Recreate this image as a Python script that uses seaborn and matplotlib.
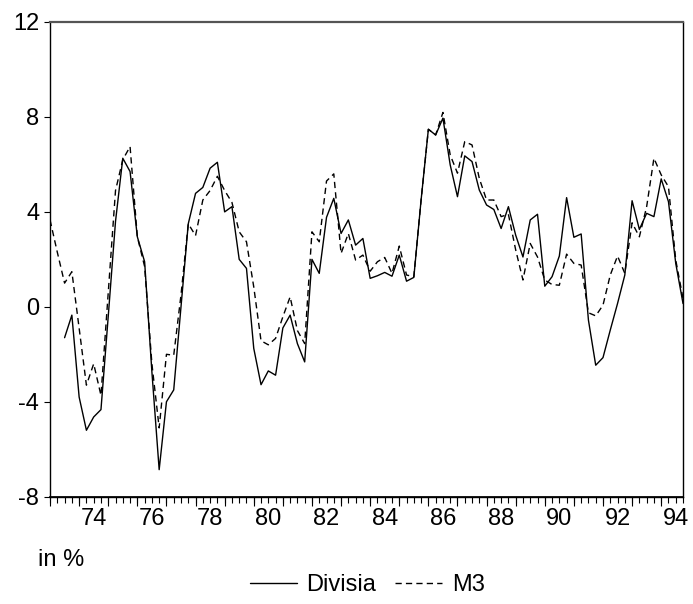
import numpy as np
import pandas as pd
import matplotlib
matplotlib.use('Agg')
import matplotlib.pyplot as plt
import seaborn as sns

# quarterly growth rates, 1973Q1 - 1994Q4, in %
start_year = 1973
divisia = [np.nan, np.nan, -1.3, -0.35, -3.8, -5.2, -4.64, -4.33,
           -0.4, 3.6, 6.26, 5.7, 2.95, 1.9, -2.74, -6.86,
           -4.0, -3.5, 0.0, 3.5, 4.78, 5.03, 5.84, 6.09,
           4.0, 4.22, 2.0, 1.62, -1.75, -3.28, -2.7, -2.88,
           -0.89, -0.35, -1.55, -2.32, 2.0, 1.41, 3.77, 4.57,
           3.09, 3.66, 2.6, 2.88, 1.2, 1.31, 1.45, 1.29,
           2.18, 1.08, 1.24, 4.5, 7.48, 7.24, 7.95, 5.98,
           4.64, 6.36, 6.12, 4.92, 4.29, 4.1, 3.3, 4.22,
           3.02, 2.1, 3.66, 3.9, 0.87, 1.27, 2.14, 4.6,
           2.93, 3.07, -0.56, -2.46, -2.14, -0.98, 0.14, 1.34,
           4.47, 3.26, 3.94, 3.8, 5.39, 4.43, 1.83, 0.14]
m3 = [3.66, 2.3, 1.0, 1.48, -0.9, -3.3, -2.4, -3.73,
      0.6, 4.9, 6.2, 6.75, 2.95, 1.7, -2.4, -5.1,
      -2.0, -2.04, 0.5, 3.5, 3.0, 4.5, 4.9, 5.5,
      4.9, 4.4, 3.16, 2.74, 0.84, -1.43, -1.6, -1.33,
      -0.42, 0.42, -1.0, -1.55, 3.16, 2.74, 5.3, 5.6,
      2.25, 3.09, 1.97, 2.18, 1.5, 1.9, 2.08, 1.41,
      2.56, 1.34, 1.27, 4.5, 7.48, 7.24, 8.19, 6.4,
      5.63, 6.96, 6.82, 5.41, 4.5, 4.5, 3.8, 3.9,
      2.4, 1.13, 2.67, 2.1, 1.13, 0.94, 0.91, 2.22,
      1.83, 1.76, -0.25, -0.38, 0.07, 1.34, 2.14, 1.41,
      3.54, 2.95, 4.22, 6.26, 5.56, 5.06, 1.97, 0.35]
year_labels = ['74', '76', '78', '80', '82', '84', '86', '88', '90', '92', '94']
y_ticks = [-8, -4, 0, 4, 8, 12]

quarters = start_year + np.arange(len(m3)) / 4
df = pd.DataFrame({'quarter': quarters, 'Divisia': divisia, 'M3': m3})

sns.set_theme(style='white')
plt.rcParams['font.family'] = ['Liberation Sans', 'DejaVu Sans']
plt.rcParams['axes.unicode_minus'] = False
plt.rcParams['text.color'] = 'black'
plt.rcParams['xtick.color'] = 'black'
plt.rcParams['ytick.color'] = 'black'

fig = plt.figure(figsize=(6.93, 6.04), dpi=100)
ax = fig.add_axes([0.0722, 0.1776, 0.9134, 0.786])

sns.lineplot(data=df, x='quarter', y='Divisia', ax=ax, color='black', lw=1.0, label='Divisia')
sns.lineplot(data=df, x='quarter', y='M3', ax=ax, color='black', lw=1.0,
             linestyle=(0, (4.5, 3)), label='M3')

ax.set_xlim(start_year, quarters[-1])
ax.set_ylim(-8, 12)
ax.set_xlabel('')
ax.set_ylabel('')

# year labels sit in the middle of each year
label_pos = [1900 + int(l) + 0.5 for l in year_labels]
ax.xaxis.remove_overlapping_locs = False
ax.set_xticks(label_pos, year_labels)
ax.set_xticks(quarters, minor=True)
ax.tick_params(axis='x', which='major', length=0, pad=8, labelsize=17)
ax.tick_params(axis='x', which='minor', length=4, width=0.8, direction='out', bottom=True)

sec = ax.secondary_xaxis('bottom')
sec.set_xticks(np.arange(start_year, 1995))
sec.tick_params(length=6.5, width=0.8, direction='out', labelbottom=False)
sec.spines['bottom'].set_color('black')

ax.set_yticks(y_ticks)
ax.tick_params(axis='y', length=4.3, width=0.8, direction='out', left=True, pad=3.5, labelsize=17)

for side in ['left', 'right', 'bottom']:
    ax.spines[side].set_color('black')
    ax.spines[side].set_linewidth(1.0)
ax.spines['top'].set_color('#555555')
ax.spines['top'].set_linewidth(1.6)

handles, labels = ax.get_legend_handles_labels()
ax.get_legend().remove()
fig.legend(handles, labels, loc='center', bbox_to_anchor=(0.53, 0.031), ncol=2,
           frameon=False, fontsize=17, handlelength=2.0, handletextpad=0.4,
           columnspacing=0.8)

fig.text(38 / 693, 1 - 560 / 604, 'in %', fontsize=17, va='center', ha='left')

fig.savefig('out.png', dpi=100)
